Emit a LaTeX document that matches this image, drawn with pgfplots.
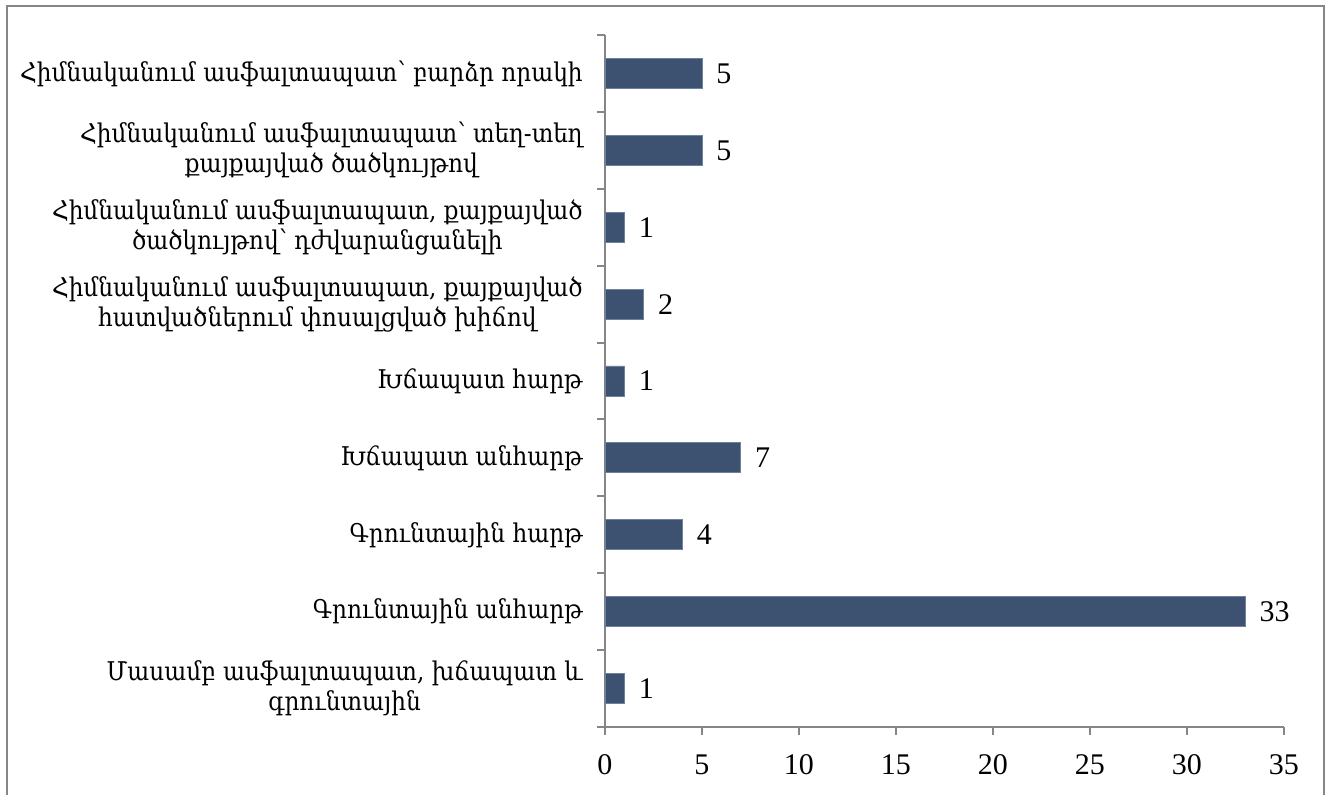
\documentclass[border=0pt]{standalone}
\usepackage{fontspec}
\setmainfont{Liberation Serif}
\newfontfamily\armfont{DejaVu Serif Condensed}
\usepackage{pgfplots}
\pgfplotsset{compat=1.18}
\definecolor{barc}{RGB}{60,82,112}
\definecolor{barb}{RGB}{110,130,160}
\definecolor{axc}{RGB}{134,134,134}
\begin{document}
\begin{tikzpicture}
\useasboundingbox (0,0) rectangle (664.5pt,397.5pt);
\draw[axc, line width=1pt] (3.5pt,0) -- (3.5pt,394.5pt) -- (662pt,394.5pt) -- (662pt,0);
\begin{axis}[
  at={(302.5pt,34pt)}, anchor=south west,
  scale only axis, width=339.5pt, height=346pt,
  xbar, bar width=15pt,
  xmin=0, xmax=35, ymin=-0.5, ymax=8.5,
  /pgf/number format/assume math mode=true,
  axis lines=left,
  axis line style={-, axc, line width=1pt},
  tick align=outside, major tick length=4pt,
  tick style={axc, line width=1pt},
  xtick={0,5,...,35},
  xticklabel style={font=\fontsize{15}{17}\selectfont, inner sep=0pt, yshift=-9.5pt},
  ytick={-0.5,0.5,...,8.5},
  yticklabels={,,,,,,,,,},
  extra y ticks={0,1,2,3,4,5,6,7,8},
  extra y tick labels={
    {Մասամբ ասֆալտապատ, խճապատ և\\գրունտային},
    {Գրունտային անհարթ},
    {Գրունտային հարթ},
    {Խճապատ անհարթ},
    {Խճապատ հարթ},
    {Հիմնականում ասֆալտապատ, քայքայված\\հատվածներում փոսալցված խիճով},
    {Հիմնականում ասֆալտապատ, քայքայված\\ծածկույթով՝ դժվարանցանելի},
    {Հիմնականում ասֆալտապատ՝ տեղ-տեղ\\քայքայված ծածկույթով},
    {Հիմնականում ասֆալտապատ՝ բարձր որակի}},
  extra y tick style={major tick length=0pt,
    yticklabel style={font=\armfont\fontsize{12.9}{15}\selectfont, align=center, inner sep=0pt, xshift=-11pt}},
  nodes near coords,
  every node near coord/.append style={font=\fontsize{15}{17}\selectfont, inner sep=0pt, anchor=west, xshift=7pt, black},
  clip=false,
]
\addplot[fill=barc, draw=barb, line width=0.4pt] coordinates {
  (1,0) (33,1) (4,2) (7,3) (1,4) (2,5) (1,6) (5,7) (5,8)
};
\end{axis}
\end{tikzpicture}
\end{document}
